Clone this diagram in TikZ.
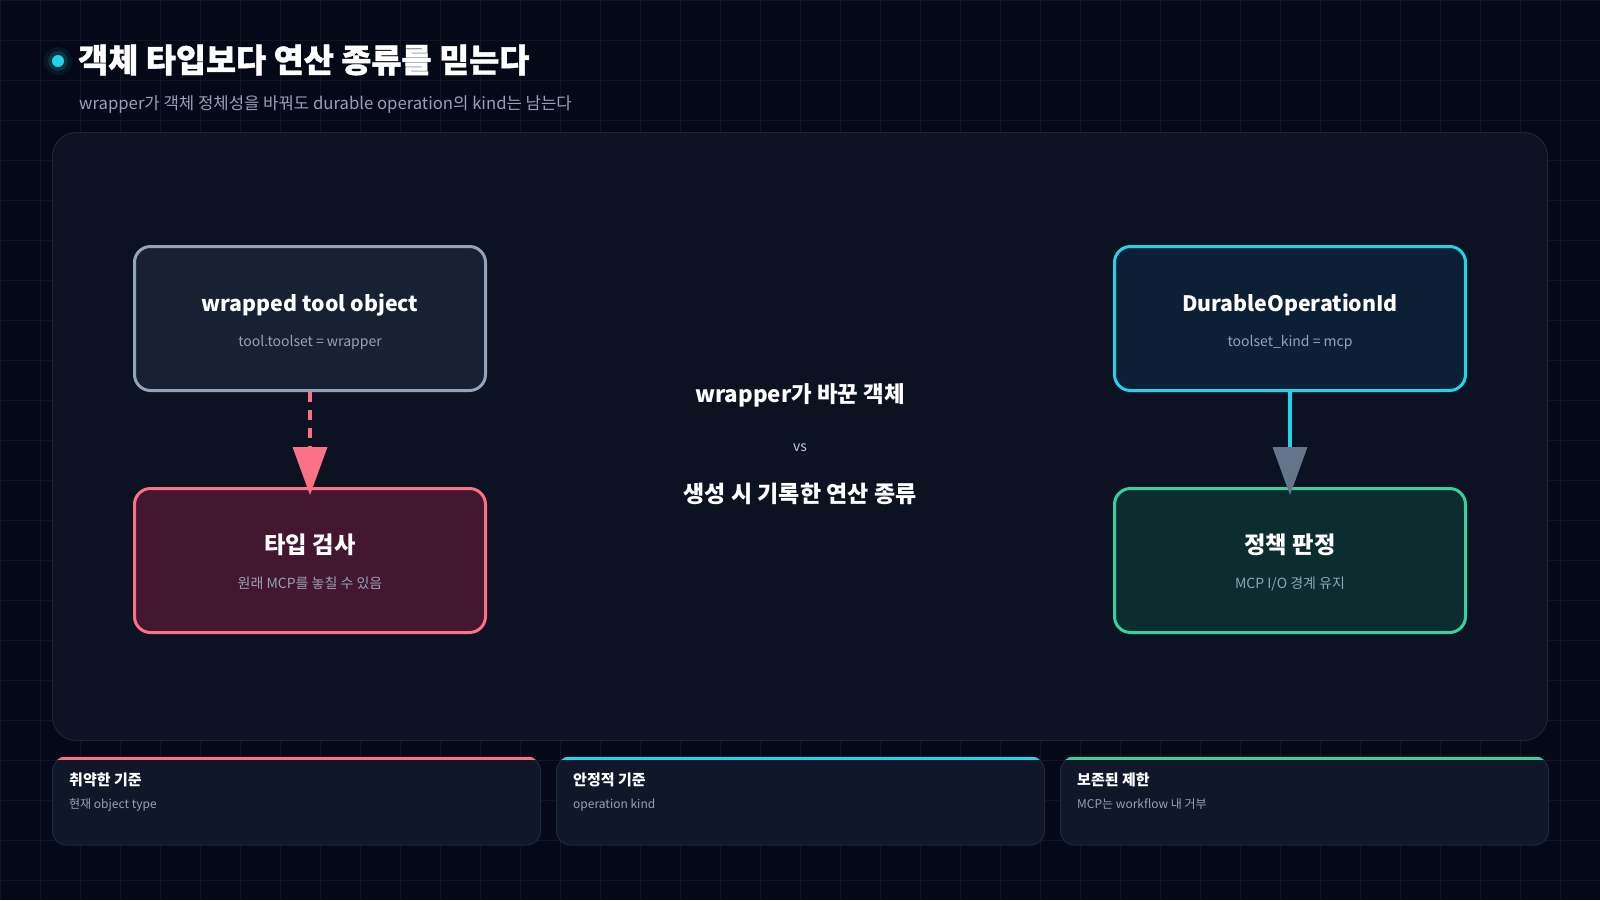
\documentclass[tikz,border=0pt]{standalone}
\usepackage{fontspec}
\setmainfont{Noto Sans CJK KR}
\newfontfamily\titlefont{Noto Sans CJK KR}[BoldFeatures={FakeBold=1.2}]
\usetikzlibrary{positioning,calc,arrows.meta}

\definecolor{pagebg}{HTML}{050816}
\definecolor{gridln}{HTML}{0E1526}
\definecolor{panelbg}{HTML}{0C1222}
\definecolor{panelln}{HTML}{1C2638}
\definecolor{cardbg}{HTML}{0F1729}
\definecolor{cardln}{HTML}{1E293B}
\definecolor{slatetxt}{HTML}{94A3B8}
\definecolor{slatebg}{HTML}{172133}
\definecolor{roseln}{HTML}{FB7185}
\definecolor{rosebg}{HTML}{441730}
\definecolor{cyanln}{HTML}{22D3EE}
\definecolor{cyanbg}{HTML}{0B2035}
\definecolor{greenln}{HTML}{34D399}
\definecolor{greenbg}{HTML}{0B2D30}
\definecolor{tipgray}{HTML}{64748B}

\begin{document}
\begin{tikzpicture}[x=1pt, y=-1pt,
    every node/.style={inner sep=0pt},
    box/.style={line width=3pt, rounded corners=16pt,
        minimum width=351pt, minimum height=144pt},
    boxhead/.style={text=white, font=\bfseries\fontsize{21.3}{26}\selectfont},
    hanhead/.style={text=white, font=\bfseries\fontsize{23.3}{28}\selectfont},
    boxnote/.style={text=slatetxt, font=\fontsize{14}{17}\selectfont},
    card/.style={draw=cardln, fill=cardbg, line width=1pt, rounded corners=14pt,
        minimum width=488pt, minimum height=88pt},
    cardhead/.style={anchor=west, text=white, text height=0.9em, text depth=0.25em,
        font=\bfseries\fontsize{15}{18}\selectfont},
    cardnote/.style={anchor=west, text=slatetxt, text height=0.9em, text depth=0.25em,
        font=\fontsize{12}{15}\selectfont}]

        \useasboundingbox (0,0) rectangle (1600,900);
        \fill[pagebg] (0,0) rectangle (1600,900);
        \draw[gridln, line width=1pt] (0,0) grid[step=40pt] (1600,900);

        %heading
        \fill[cyanln, opacity=0.08] (58,61) circle (14);
        \fill[cyanln, opacity=0.15] (58,61) circle (10);
        \fill[cyanln] (58,61) circle (6);
        \node[anchor=west, text=white,
        font=\titlefont\bfseries\fontsize{32.7}{38}\selectfont] (title) at (78,60) {객체 타입보다 연산 종류를 믿는다};
        \node[anchor=west, text=slatetxt,
        font=\fontsize{16.7}{20}\selectfont] (subtitle) at (79,105) {wrapper가 객체 정체성을 바꿔도 durable operation의 kind는 남는다};

        %panel
        \node[draw = panelln, fill = panelbg, line width = 1pt,
            rounded corners = 24pt,
            minimum width = 1495pt,
            minimum height = 608pt] (panel) at (800,436.5) {};

        %left column
        \node[box, draw = slatetxt, fill = slatebg] (wto) at (310,318.5) {};
        \node[boxhead] (wtohead) at ($(wto.center)+(0,-14)$) {wrapped tool object};
        \node[boxnote] (wtonote) at ($(wto.center)+(0,24)$) {tool.toolset = wrapper};

        \node[box, draw = roseln, fill = rosebg, below = 95pt of wto] (typ) {};
        \node[hanhead] (typhead) at ($(typ.center)+(0,-16)$) {타입 검사};
        \node[boxnote] (typnote) at ($(typ.center)+(0,23)$) {원래 MCP를 놓칠 수 있음};

        %right column
        \node[box, draw = cyanln, fill = cyanbg] (doi) at (1290,318.5) {};
        \node[boxhead] (doihead) at ($(doi.center)+(0,-14)$) {DurableOperationId};
        \node[boxnote] (doinote) at ($(doi.center)+(0,24)$) {toolset\_kind = mcp};

        \node[box, draw = greenln, fill = greenbg, below = 95pt of doi] (pol) {};
        \node[hanhead] (polhead) at ($(pol.center)+(0,-16)$) {정책 판정};
        \node[boxnote] (polnote) at ($(pol.center)+(0,23)$) {MCP I/O 경계 유지};

        %middle
        \node[text=white, font=\bfseries\fontsize{22.4}{27}\selectfont] (mida) at (800,395) {wrapper가 바꾼 객체};
        \node[text=slatetxt!60!white, font=\fontsize{14}{17}\selectfont] (vs) at (800,448) {vs};
        \node[text=white, font=\bfseries\fontsize{23}{27}\selectfont] (midb) at (800,494) {생성 시 기록한 연산 종류};

        %arrows
        \draw[roseln, line width=4pt, dash pattern=on 10pt off 8pt, shorten >=-8pt,
            -{Triangle[length=48pt, width=35pt, line width=0pt]}] (wto.south) -- (typ.north);
        \draw[cyanln, line width=4pt, shorten >=-8pt,
            -{Triangle[length=48pt, width=35pt, line width=0pt, color=tipgray]}] (doi.south) -- (pol.north);

        %cards
        \node[card] (weak) at (296.5,801) {};
        \begin{scope}
            \clip[rounded corners=14pt] (weak.south west) rectangle (weak.north east);
            \fill[roseln] (weak.north west) rectangle ($(weak.north east)+(0,3)$);
        \end{scope}
        \node[cardhead] (weakhead) at ($(weak.north west)+(17,26)$) {취약한 기준};
        \node[cardnote] (weaknote) at ($(weak.north west)+(17,49)$) {현재 object type};

        \node[card, right = 15pt of weak] (stable) {};
        \begin{scope}
            \clip[rounded corners=14pt] (stable.south west) rectangle (stable.north east);
            \fill[cyanln] (stable.north west) rectangle ($(stable.north east)+(0,3)$);
        \end{scope}
        \node[cardhead] (stablehead) at ($(stable.north west)+(17,26)$) {안정적 기준};
        \node[cardnote] (stablenote) at ($(stable.north west)+(17,49)$) {operation kind};

        \node[card, right = 15pt of stable] (kept) {};
        \begin{scope}
            \clip[rounded corners=14pt] (kept.south west) rectangle (kept.north east);
            \fill[greenln] (kept.north west) rectangle ($(kept.north east)+(0,3)$);
        \end{scope}
        \node[cardhead] (kepthead) at ($(kept.north west)+(17,26)$) {보존된 제한};
        \node[cardnote] (keptnote) at ($(kept.north west)+(17,49)$) {MCP는 workflow 내 거부};

\end{tikzpicture}
\end{document}
